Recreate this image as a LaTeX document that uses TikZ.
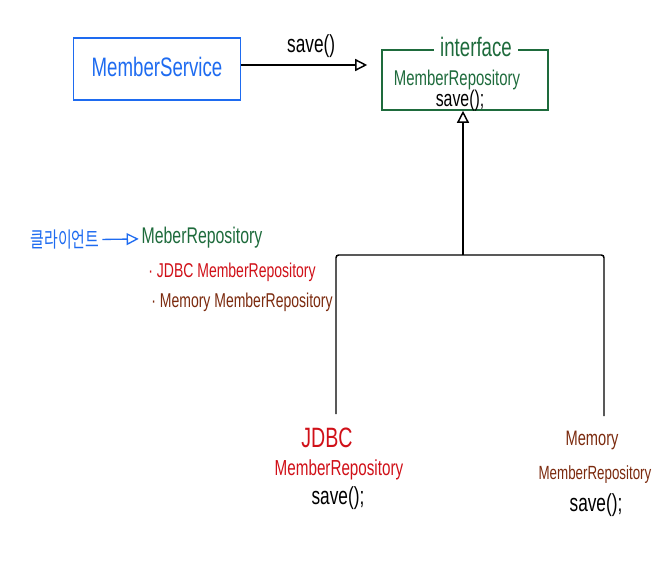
\documentclass[tikz,border=0pt]{standalone}
\usepackage{fontspec}
\setmainfont{Liberation Sans}[FakeStretch=0.7]
\newfontfamily\krfont{Noto Sans CJK KR}[FakeStretch=0.7]
\usetikzlibrary{arrows.meta,positioning}
\definecolor{sketchBlue}{HTML}{1E6BF0}
\definecolor{sketchGreen}{HTML}{1E6B3C}
\definecolor{sketchRed}{HTML}{D01018}
\definecolor{sketchBrown}{HTML}{7B2A0E}
\tikzset{
  sketchbox/.style={draw, line width=1.2pt, inner sep=0pt},
  sketchtext/.style={inner sep=2pt},
  sketcharrow/.style={-{Triangle[open, length=9pt, width=9pt]}, line width=1.1pt},
  treeline/.style={line width=1.1pt, rounded corners=2pt}
}

\begin{document}
\begin{tikzpicture}[x=0.75pt, y=-0.75pt]
    \useasboundingbox (0,0) rectangle (658,572);

    % top row
    \node[sketchbox, draw=sketchBlue, minimum width=125pt, minimum height=46.5pt] (svc) at (157,69) {};
    \node[sketchtext, text=sketchBlue, font=\fontsize{20}{24}\selectfont] (svcName) at (157,67) {MemberService};

    \node[sketchbox, draw=sketchGreen, minimum width=124.5pt, minimum height=45pt] (iface) at (465,80) {};
    \node[sketchtext, fill=white, inner xsep=5pt, inner ysep=0pt, text=sketchGreen, font=\fontsize{20}{24}\selectfont] (ifaceTag) at (476,47) {interface};
    \node[sketchtext, text=sketchGreen, font=\fontsize{16}{19}\selectfont] (ifaceName) at (457,80) {MemberRepository};
    \node[sketchtext, font=\fontsize{17}{20}\selectfont] (ifaceSave) at (460,101) {save();};

    \draw[sketcharrow, shorten >=10.5pt] (svc.east |- 0,65) -- (iface.west |- 0,65)
      node[midway, above=2pt, font=\fontsize{18.5}{22}\selectfont] (callLabel) {save()};

    % left notes
    \node[sketchtext, text=sketchBlue, font=\krfont\fontsize{16}{19}\selectfont] (client) at (65,240) {클라이언트};
    \node[sketchtext, text=sketchGreen, font=\fontsize{17}{20}\selectfont] (meber) at (202,238) {MeberRepository};
    \draw[sketcharrow, draw=sketchBlue, line width=1pt] (client) -- (meber);
    \node[sketchtext, text=sketchRed, font=\fontsize{15}{18}\selectfont] (listJdbc) at (232,272) {· JDBC MemberRepository};
    \node[sketchtext, text=sketchBrown, font=\fontsize{15}{18}\selectfont] (listMem) at (242,302) {· Memory MemberRepository};

    % implementations
    \node[sketchtext, text=sketchRed, font=\fontsize{21}{25}\selectfont] (jdbcTitle) at (327,438) {JDBC};
    \node[sketchtext, text=sketchRed, font=\fontsize{16.3}{19}\selectfont] (jdbcName) at (339,470) {MemberRepository};
    \node[sketchtext, font=\fontsize{18.5}{22}\selectfont] (jdbcSave) at (338,498) {save();};

    \node[sketchtext, text=sketchBrown, font=\fontsize{15.7}{19}\selectfont] (memTitle) at (592,440) {Memory};
    \node[sketchtext, text=sketchBrown, font=\fontsize{14.3}{17}\selectfont] (memName) at (595,475) {MemberRepository};
    \node[sketchtext, font=\fontsize{18.5}{22}\selectfont] (memSave) at (596,505) {save();};

    \coordinate (split) at (463,255);
    \coordinate (jdbcTop) at (336,414);
    \coordinate (memTop) at (604,416);
    \draw[treeline] (jdbcTop) |- (split) -| (memTop);
    \draw[sketcharrow] (split) -- (split |- iface.south);
  \end{tikzpicture}
\end{document}
